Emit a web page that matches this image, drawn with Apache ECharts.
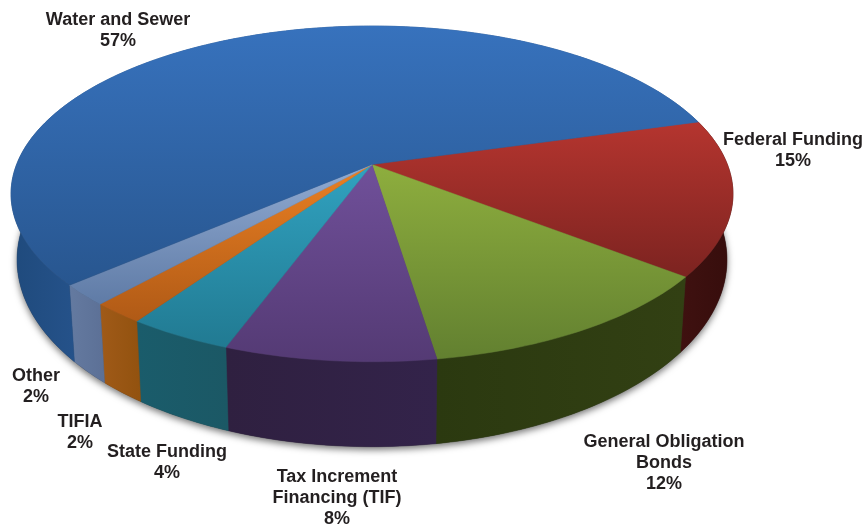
<!DOCTYPE html>
<html>
<head>
<meta charset="utf-8">
<title>Transportation funding sources</title>
<script src="https://cdn.jsdelivr.net/npm/echarts@6/dist/echarts.min.js"></script>
<style>
  html, body { margin: 0; padding: 0; background: #fff; }
  #chart { width: 863px; height: 525px; }
</style>
</head>
<body>
<div id="chart"></div>
<script>
// Funding shares, in percent, clockwise from the upper right of the pie
const categories = ['Federal Funding', 'General Obligation Bonds', 'Tax Increment Financing (TIF)', 'State Funding', 'TIFIA', 'Other', 'Water and Sewer'];
const shares = [15, 12, 8, 4, 2, 2, 57];

// Wrapped category lines for the outside labels
const labelLines = [
  ['Federal Funding'],
  ['General Obligation', 'Bonds'],
  ['Tax Increment', 'Financing (TIF)'],
  ['State Funding'],
  ['TIFIA'],
  ['Other'],
  ['Water and Sewer']
];
// Label anchors: centre x and first-line y
const labelAnchors = [[793, 140], [664, 442], [337, 477], [167, 452], [80, 422], [36, 376], [118, 20]];

// Face gradient stops and wall gradient stops per slice
const faceColors = [
  ['#b5352f', '#7c2320'], ['#8eae3e', '#628030'], ['#70509a', '#543a74'],
  ['#31a2c0', '#217a92'], ['#ea8023', '#b05a16'], ['#91abd2', '#5f7ba6'], ['#3772bd', '#28568f']
];
const wallColors = [
  ['#3f1110', '#360d0c'], ['#2b3910', '#324013'], ['#2f2040', '#33234a'],
  ['#1a5c6b', '#1b5865'], ['#a05a18', '#92520f'], ['#647aa0', '#5c7096'], ['#1f4a7c', '#25528a']
];

// Perspective view of the pie disc
const view = {
  cx: 372, apexY: 164.5, a: 355.4, b: 162.7, k: 0.175,
  rimCy: 194, rimRy: 168, rimRx: 361,
  baseCy: 260, baseRy: 187, baseRx: 355,
  startDeg: -15.9
};

const total = shares.reduce((s, v) => s + v, 0);

function sliceAngles(index) {
  let start = view.startDeg;
  for (let i = 0; i < index; i++) start += shares[i] / total * 360;
  return [start, start + shares[index] / total * 360];
}

// Point on the top rim for a pie angle, with foreshortening towards the back
function rimPoint(deg) {
  const t = deg * Math.PI / 180;
  const u = Math.cos(t), v = Math.sin(t);
  const w = 1 - view.k * v;
  return [view.cx + view.a * u / w, view.apexY + view.b * v / w];
}

// Same rim position on the lower edge of the side wall
function basePoint(p) {
  return [
    view.cx + (p[0] - view.cx) * view.baseRx / view.rimRx,
    view.baseCy + (p[1] - view.rimCy) * view.baseRy / view.rimRy
  ];
}

function rimArc(a0, a1) {
  const n = Math.max(2, Math.ceil(Math.abs(a1 - a0)));
  const pts = [];
  for (let i = 0; i <= n; i++) pts.push(rimPoint(a0 + (a1 - a0) * i / n));
  return pts;
}

function bounds(pts) {
  const xs = pts.map(p => p[0]), ys = pts.map(p => p[1]);
  return { x0: Math.min(...xs), x1: Math.max(...xs), y0: Math.min(...ys), y1: Math.max(...ys) };
}

function renderShadow() {
  const pts = rimArc(0, 360).map(basePoint);
  return {
    type: 'polygon',
    shape: { points: pts },
    style: { fill: '#333', shadowBlur: 7, shadowOffsetY: 3, shadowColor: 'rgba(0,0,0,0.55)' }
  };
}

function renderWall(params) {
  const i = params.dataIndex;
  const [a0, a1] = sliceAngles(i);
  const top = rimArc(a0, a1);
  const low = top.map(basePoint).reverse();
  const pts = top.concat(low);
  const b = bounds(pts.filter(p => p[1] > view.rimCy - 10));
  const fill = new echarts.graphic.LinearGradient(b.x0, 0, b.x1, 0, [
    { offset: 0, color: wallColors[i][0] }, { offset: 1, color: wallColors[i][1] }
  ], true);
  return { type: 'polygon', shape: { points: pts }, style: { fill: fill, stroke: fill, lineWidth: 0.5 } };
}

function renderFace(params) {
  const i = params.dataIndex;
  const [a0, a1] = sliceAngles(i);
  const pts = [[view.cx, view.apexY]].concat(rimArc(a0, a1));
  const b = bounds(pts);
  const fill = new echarts.graphic.LinearGradient(0, b.y0, 0, b.y1, [
    { offset: 0, color: faceColors[i][0] }, { offset: 1, color: faceColors[i][1] }
  ], true);
  return { type: 'polygon', shape: { points: pts }, style: { fill: fill, stroke: fill, lineWidth: 0.5 } };
}

function renderLabel(params, api) {
  const i = params.dataIndex;
  const lines = labelLines[i].concat([api.value(0) + '%']);
  const [x, y] = labelAnchors[i];
  return {
    type: 'group',
    children: lines.map((line, n) => ({
      type: 'text',
      style: {
        x: x, y: y + n * 21, text: line,
        align: 'center', verticalAlign: 'middle',
        font: 'bold 18px "Liberation Sans", Arial, sans-serif',
        fill: '#231f20'
      }
    }))
  };
}

const rows = categories.map((c, i) => ({ name: c, value: [shares[i]] }));
const customSeries = (renderItem, z) => ({
  type: 'custom', coordinateSystem: 'none', renderItem: renderItem, data: rows, z: z, silent: true
});

const chart = echarts.init(document.getElementById('chart'), null, { renderer: 'canvas' });
chart.setOption({
  animation: false,
  backgroundColor: '#ffffff',
  series: [
    { type: 'custom', coordinateSystem: 'none', renderItem: renderShadow, data: [[0]], z: 1, silent: true },
    customSeries(renderWall, 2),
    customSeries(renderFace, 3),
    customSeries(renderLabel, 4)
  ]
});
</script>
</body>
</html>
